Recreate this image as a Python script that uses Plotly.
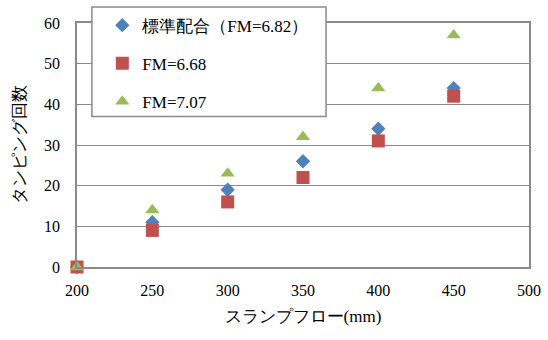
import plotly.graph_objects as go

slump_flow = [200, 250, 300, 350, 400, 450]
series_names = ["標準配合（FM=6.82）", "FM=6.68", "FM=7.07"]
standard = [0, 11, 19, 26, 34, 44]
fm_668 = [0, 9, 16, 22, 31, 42]
fm_707 = [0, 14, 23, 32, 44, 57]
x_ticks = [200, 250, 300, 350, 400, 450, 500]
y_ticks = [0, 10, 20, 30, 40, 50, 60]

FONT = "Times New Roman, Liberation Serif, DejaVu Serif, serif"
GRAY = "#8a8a8a"
TICKFONT = dict(family=FONT, size=16, color="black")

fig = go.Figure()
fig.add_trace(go.Scatter(x=slump_flow, y=standard, mode="markers", name=series_names[0],
                         marker=dict(symbol="diamond", size=11, color="#4F81BD"),
                         cliponaxis=False, legendgroup="a"))
fig.add_trace(go.Scatter(x=slump_flow, y=fm_668, mode="markers", name=series_names[1],
                         marker=dict(symbol="square", size=13, color="#C0504D"),
                         cliponaxis=False, legendgroup="b"))
fig.add_trace(go.Scatter(x=slump_flow, y=fm_707, mode="markers", name=series_names[2],
                         marker=dict(symbol="triangle-up", size=12.5, color="#9BBB59"),
                         cliponaxis=False, legendgroup="c"))

# legend frame
fig.add_shape(type="rect", xref="paper", yref="paper",
              x0=0.033, x1=0.551, y0=0.617, y1=1.0656,
              fillcolor="white", line=dict(color=GRAY, width=1.5), layer="above")

fig.update_layout(
    width=548, height=340,
    margin=dict(l=77, r=19, t=23, b=73, autoexpand=False),
    paper_bgcolor="white", plot_bgcolor="white",
    font=dict(family=FONT, size=16, color="black"),
    showlegend=True,
    legend=dict(x=0.056, y=1.063, xanchor="left", yanchor="top",
                bgcolor="rgba(0,0,0,0)", borderwidth=0,
                traceorder="grouped", tracegroupgap=13,
                font=dict(family=FONT, size=17, color="black")),
    xaxis=dict(range=[200, 500], tickvals=x_ticks, showgrid=False, zeroline=False,
               showline=True, linecolor=GRAY, linewidth=1.5, mirror=True,
               ticks="", ticklabelstandoff=8, tickfont=TICKFONT,
               title=dict(text="スランプフロー(mm)", standoff=12,
                          font=dict(family=FONT, size=17))),
    yaxis=dict(range=[0, 60], tickvals=y_ticks, showgrid=True, gridcolor=GRAY, gridwidth=1,
               zeroline=False, showline=True, linecolor=GRAY, linewidth=1.5, mirror=True,
               ticks="", ticklabelstandoff=12, tickfont=TICKFONT,
               title=dict(text="タンピング回数", standoff=14,
                          font=dict(family=FONT, size=17))),
)

fig.write_html("out.html", config={"displayModeBar": False},
               post_script="document.body.style.margin='0';")
